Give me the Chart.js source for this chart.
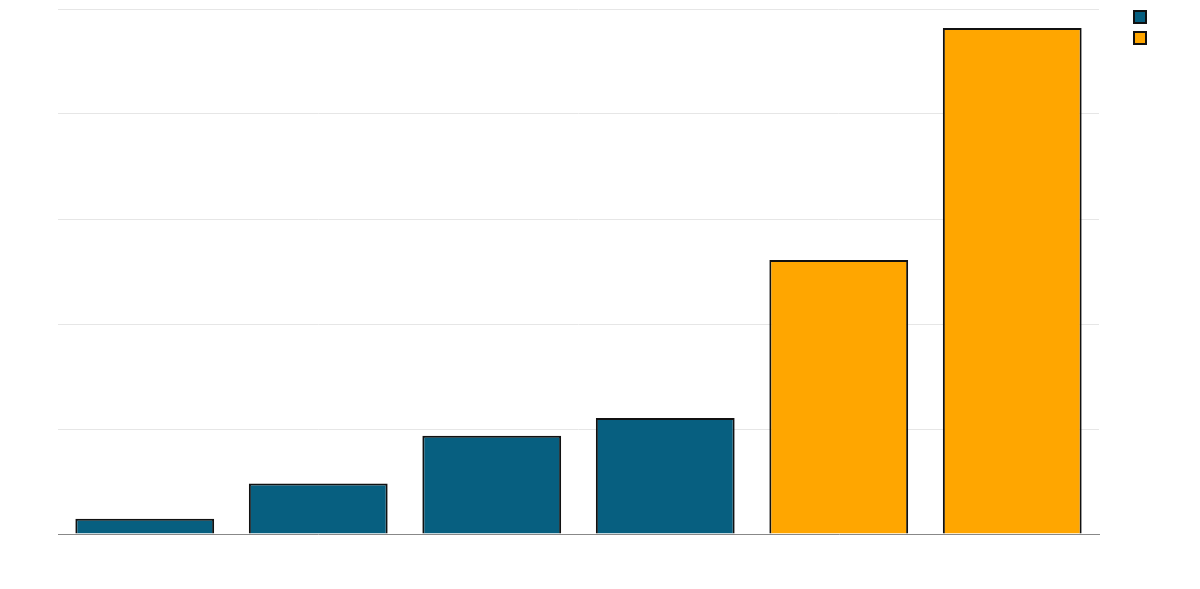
<!DOCTYPE html>
<html>
<head>
<meta charset="utf-8">
<script src="https://cdn.jsdelivr.net/npm/chart.js@4"></script>
<style>
  html, body { margin: 0; padding: 0; background: #fff; }
  #wrap { width: 1200px; height: 589px; }
</style>
</head>
<body>
<div id="wrap"><canvas id="barChart"></canvas></div>
<script>
// categories have no visible labels in the picture
const categories = ['', '', '', '', '', ''];
const blueValues = [2.9, 9.6, 18.7, 22.1, null, null];
const orangeValues = [null, null, null, null, 52.2, 96.4];
const yTicks = [0, 20, 40, 60, 80, 100];

// nudge the legend a bit away from the plot, like in the original
const legendShift = {
    id: 'legendShift',
    afterLayout: function(chart) {
        const lg = chart.legend;
        if (!lg) return;
        lg.left += 26;
        lg.right += 26;
        lg.top -= 7;
        lg.bottom -= 7;
    }
};

const ctx = document.getElementById('barChart');
new Chart(ctx, {
    type: 'bar',
    data: {
        labels: categories,
        datasets: [
            {
                label: '',
                data: blueValues,
                backgroundColor: '#075f80',
                borderColor: '#111',
                borderWidth: 2,
                borderSkipped: 'bottom'
            },
            {
                label: '',
                data: orangeValues,
                backgroundColor: '#ffa600',
                borderColor: '#111',
                borderWidth: 2,
                borderSkipped: 'bottom'
            }
        ]
    },
    plugins: [legendShift],
    options: {
        responsive: true,
        maintainAspectRatio: false,
        animation: false,
        layout: {
            padding: { left: 58, top: 9, bottom: 55, right: 64 }
        },
        datasets: {
            bar: { barPercentage: 1, categoryPercentage: 0.8 }
        },
        plugins: {
            legend: {
                position: 'right',
                align: 'start',
                labels: {
                    boxWidth: 12,
                    boxHeight: 12,
                    padding: 9,
                    font: { size: 12 }
                }
            },
            tooltip: { enabled: false }
        },
        scales: {
            x: {
                stacked: true,
                ticks: { display: false, padding: 0 },
                grid: { display: false, drawTicks: false },
                border: { display: true, color: '#888', width: 1 }
            },
            y: {
                stacked: true,
                min: 0,
                max: 100,
                ticks: { display: false, stepSize: 20, padding: 0 },
                afterBuildTicks: function(axis) {
                    axis.ticks = yTicks.map(v => ({ value: v }));
                },
                grid: { color: '#e6e6e6', drawTicks: false },
                border: { display: false }
            }
        }
    }
});
</script>
</body>
</html>
